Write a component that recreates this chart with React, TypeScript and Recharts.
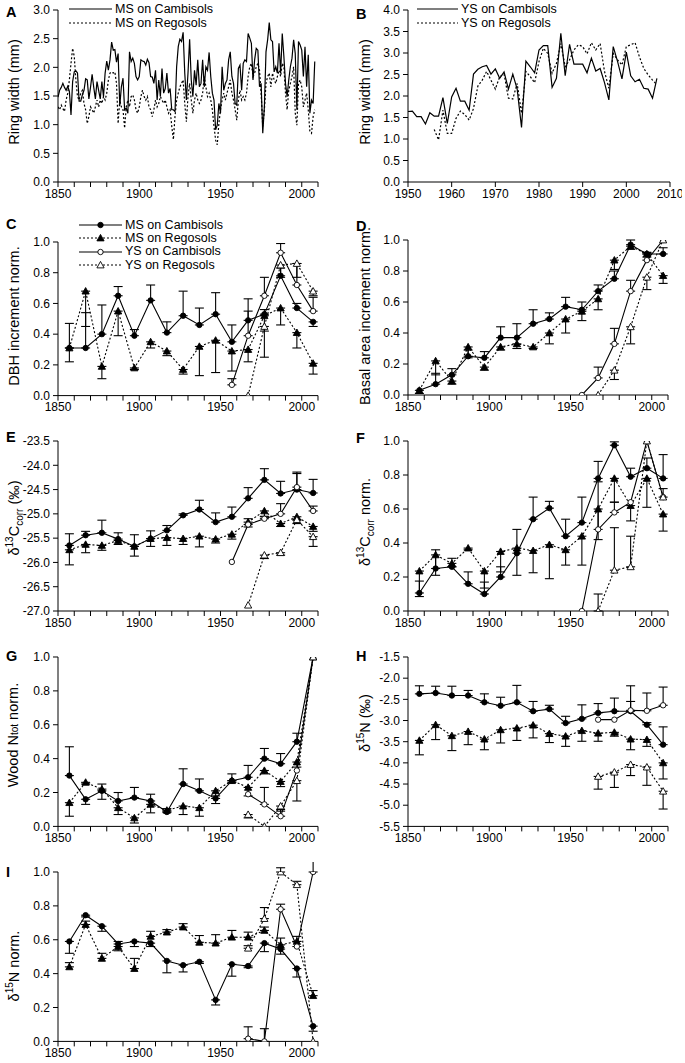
import React from "react";
import { ComposedChart, Line, XAxis, YAxis, ErrorBar } from "recharts";

const FONT = "'Liberation Sans', Arial, Helvetica, sans-serif";

// ---------- A: annual ring width, mature stands, 1850-2008
const ringStartA = 1850;
const msCambRing = [
  1.48, 1.6, 1.65, 1.72, 1.65, 1.6, 1.67, 1.58, 1.17, 1.75,
  1.92, 1.94, 1.9, 1.41, 1.41, 1.52, 1.6, 1.8, 1.78, 1.45,
  1.65, 1.88, 1.65, 1.45, 1.75, 1.6, 1.45, 1.75, 1.49, 1.9,
  2.11, 1.95, 2.13, 2.44, 2.3, 2.31, 2.09, 2.24, 1.33, 1.66,
  1.81, 1.26, 1.29, 1.2, 2.27, 2.1, 2.16, 2.07, 1.84, 1.78,
  1.84, 2.13, 2.11, 2.1, 2.04, 2.14, 2.08, 1.84, 1.83, 1.72,
  1.95, 1.43, 1.78, 1.49, 1.98, 1.55, 1.63, 1.9, 1.55, 1.63,
  1.26, 1.26, 1.23, 2.01, 2.36, 2.49, 2.45, 2.61, 1.9, 1.43,
  1.9, 2.49, 1.78, 1.49, 1.95, 1.69, 2.13, 1.66, 1.72, 2.13,
  1.66, 2.01, 1.95, 2.26, 1.84, 1.55, 1.43, 0.91, 0.99, 1.37,
  1.2, 2.01, 1.6, 1.72, 1.78, 2.13, 2.27, 1.84, 1.72, 1.37,
  1.34, 1.98, 2.04, 1.6, 2.07, 2.13, 2.1, 2.59, 2.51, 2.42,
  1.78, 2.13, 2.33, 2.3, 1.66, 1.72, 0.85, 1.31, 2.27, 2.48,
  2.78, 2.48, 2.45, 1.92, 2.01, 1.9, 2.42, 1.9, 2.59, 2.19,
  1.72, 1.49, 1.78, 2.01, 2.16, 2.48, 2.24, 1.26, 2.45, 2.39,
  2.3, 1.84, 2.36, 1.66, 2.22, 1.2, 1.43, 1.37, 2.1,
];
const msRegoRing = [
  1.31, 1.26, 1.34, 1.28, 1.23, 1.43, 1.55, 1.78, 2.07, 2.33,
  2.19, 1.78, 1.49, 1.43, 1.55, 1.6, 1.37, 1.26, 1.02, 1.14,
  1.31, 1.26, 1.2, 1.31, 1.43, 1.31, 1.43, 1.37, 1.49, 1.43,
  1.55, 1.78, 1.9, 1.92, 1.9, 1.92, 1.72, 1.02, 1.43, 1.31,
  1.26, 0.94, 1.31, 1.43, 1.31, 1.49, 1.52, 1.43, 1.26, 1.2,
  1.31, 1.49, 1.6, 1.49, 1.43, 1.49, 1.31, 1.26, 1.14, 1.26,
  1.43, 1.31, 1.37, 1.49, 1.43, 1.37, 1.43, 1.31, 1.2, 1.26,
  0.97, 0.74, 1.14, 1.43, 1.55, 1.66, 1.72, 1.78, 1.37, 1.05,
  1.49, 1.72, 1.43, 1.2, 1.43, 1.55, 1.43, 1.37, 1.43, 1.55,
  1.84, 1.66, 1.49, 1.55, 1.43, 1.26, 0.97, 0.73, 0.65, 1.02,
  1.26, 1.43, 1.55, 1.43, 1.55, 1.66, 1.78, 1.55, 1.43, 1.26,
  1.08, 1.43, 1.6, 1.43, 1.49, 1.43, 1.55, 1.84, 2.01, 2.07,
  1.84, 1.9, 2.01, 2.07, 1.95, 1.55, 0.97, 1.26, 1.72, 1.84,
  1.9, 1.66, 1.9, 1.78, 1.72, 1.84, 1.95, 1.84, 2.07, 2.01,
  1.55, 1.26, 1.6, 1.72, 1.84, 2.01, 1.2, 0.99, 1.72, 1.78,
  1.66, 1.31, 1.43, 1.55, 1.26, 0.88, 0.85, 1.14, 1.26,
];

// ---------- B: annual ring width, young stands, 1950-2007
const ringStartB = 1950;
const ysCambRing = [
  1.64, 1.65, 1.52, 1.52, 1.35, 1.61, 1.53, 1.53, 1.96, 1.36,
  1.98, 2.18, 1.88, 1.88, 1.67, 2.51, 2.62, 2.68, 2.71, 2.51,
  2.63, 2.41, 2.56, 2.16, 2.51, 2.16, 1.27, 2.81, 2.68, 2.54,
  3.07, 3.17, 3.17, 2.2, 2.41, 3.46, 2.47, 3.2, 2.74, 2.74,
  2.74, 2.54, 2.88, 2.58, 2.64, 2.31, 1.91, 3.15, 2.8, 2.4,
  3.02, 2.47, 2.33, 2.39, 2.18, 2.16, 1.95, 2.41,
];
const ysRegoRing = [
  null, null, null, null, null, null, 1.22, 0.98, 1.67, 1.13,
  1.13, 1.48, 1.65, 1.57, 1.44, 1.71, 2.23, 2.37, 2.57, 2.37,
  2.16, 2.45, 2.51, 1.95, 1.93, 2.29, 1.6, 2.57, 2.45, 2.31,
  2.8, 3.11, 2.99, 2.53, 2.76, 3.22, 2.68, 2.84, 3.07, 3.19,
  3.15, 2.98, 3.24, 3.07, 3.22, 2.57, 2.18, 2.99, 2.84, 2.72,
  3.15, 3.19, 3.24, 2.91, 2.64, 2.49, 2.37, 2.26,
];

// ---------- decadal panels (C-I); errors signed: + up, - down
const decades = [1857, 1867, 1877, 1887, 1897, 1907, 1917, 1927, 1937, 1947, 1957, 1967, 1977, 1987, 1997, 2007];
const ysDecades = [1957, 1967, 1977, 1987, 1997, 2007];

// C: DBH increment
const cMsCamb = [0.31, 0.31, 0.4, 0.65, 0.39, 0.62, 0.41, 0.52, 0.46, 0.53, 0.35, 0.49, 0.53, 0.78, 0.57, 0.48];
const cMsCambErr = [0.16, 0.23, 0.19, 0.06, 0.04, 0.1, 0.07, 0.16, 0.11, 0.14, 0.11, 0.14, 0.03, 0.05, 0.03, -0.03];
const cMsRego = [0.31, 0.68, 0.19, 0.55, 0.18, 0.35, 0.29, 0.17, 0.32, 0.36, 0.29, 0.3, 0.52, 0.57, 0.41, 0.21];
const cMsRegoErr = [-0.09, -0.23, -0.08, -0.16, -0.01, -0.04, -0.03, -0.03, -0.19, -0.21, -0.13, -0.08, -0.1, -0.11, -0.1, -0.07];
const cYsCamb = [0.07, 0.39, 0.65, 0.93, 0.72, 0.55];
const cYsCambErr = [0.04, 0.16, 0.12, 0.06, 0.14, 0.09];
const cYsRego = [null, 0.0, 0.45, 0.85, 0.86, 0.68];
const cYsRegoErr = [null, 0, -0.2, -0.08, -0.09, -0.03];

// D: basal area increment
const dMsCamb = [0.03, 0.07, 0.13, 0.25, 0.24, 0.37, 0.37, 0.46, 0.49, 0.57, 0.55, 0.67, 0.75, 0.97, 0.91, 0.91];
const dMsCambErr = [0, 0.07, 0.04, 0.04, 0.04, 0.07, 0.09, 0.09, 0.04, 0.06, 0.05, 0.04, 0.05, 0.03, 0.01, 0.04];
const dMsRego = [0.03, 0.22, 0.09, 0.31, 0.18, 0.31, 0.33, 0.31, 0.4, 0.49, 0.54, 0.62, 0.87, 0.96, 0.91, 0.77];
const dMsRegoErr = [-0.02, -0.09, -0.02, -0.07, -0.02, -0.02, -0.03, -0.01, -0.07, -0.09, -0.06, -0.07, -0.06, -0.02, -0.02, -0.05];
const dYsCamb = [0.0, 0.11, 0.33, 0.67, 0.87, 1.0];
const dYsCambErr = [0, 0.07, 0.1, 0.07, 0.05, 0];
const dYsRego = [null, 0.0, 0.16, 0.44, 0.76, 1.0];
const dYsRegoErr = [null, 0, -0.06, -0.11, -0.08, 0];

// E: d13C corr
const eMsCamb = [-25.65, -25.44, -25.39, -25.52, -25.67, -25.51, -25.34, -25.03, -24.91, -25.17, -25.06, -24.68, -24.3, -24.58, -24.5, -24.57];
const eMsCambErr = [0.24, 0.08, 0.26, 0.13, 0.24, 0.16, 0.1, 0.03, 0.19, 0.19, 0.2, 0.22, 0.23, 0.25, 0.33, 0.28];
const eMsRego = [-25.74, -25.63, -25.65, -25.55, -25.67, -25.51, -25.49, -25.51, -25.46, -25.52, -25.42, -25.17, -24.94, -25.2, -25.06, -25.26];
const eMsRegoErr = [-0.31, -0.17, -0.1, -0.08, -0.2, -0.16, -0.16, -0.12, -0.22, -0.08, -0.1, -0.1, -0.12, -0.06, -0.07, -0.1];
const eYsCamb = [-25.99, -25.22, -25.1, -25.0, -24.45, -24.94];
const eYsCambErr = [0, 0.12, 0.05, 0.21, 0.31, 0.1];
const eYsRego = [null, -26.88, -25.85, -25.8, -25.12, -25.47];
const eYsRegoErr = [null, 0, -0.07, -0.05, -0.08, -0.2];

// F: d13C corr normalised
const fMsCamb = [0.106, 0.25, 0.26, 0.16, 0.1, 0.2, 0.34, 0.54, 0.605, 0.44, 0.52, 0.78, 0.975, 0.79, 0.84, 0.78];
const fMsCambErr = [0.07, 0.11, 0.05, 0.07, 0.07, 0.06, 0.14, 0.13, 0.04, 0.1, 0.15, 0.1, 0.02, 0.05, 0.06, 0.14];
const fMsRego = [0.235, 0.33, 0.28, 0.37, 0.235, 0.35, 0.37, 0.355, 0.39, 0.36, 0.44, 0.6, 0.78, 0.62, 0.78, 0.57];
const fMsRegoErr = [-0.15, -0.12, -0.02, -0.01, -0.1, -0.12, -0.16, -0.13, -0.2, -0.09, -0.17, -0.18, -0.14, -0.09, -0.17, -0.1];
const fYsCamb = [0.0, 0.48, 0.58, 0.64, 1.0, 0.67];
const fYsCambErr = [0, 0.28, 0.06, 0, 0, 0.05];
const fYsRego = [null, 0.0, 0.24, 0.26, 1.0, 0.67];
const fYsRegoErr = [null, 0.1, 0.25, 0.18, 0, 0];

// G: wood N tot normalised
const gMsCamb = [0.3, 0.16, 0.21, 0.15, 0.17, 0.15, 0.085, 0.25, 0.21, 0.165, 0.27, 0.29, 0.4, 0.37, 0.5, 1.0];
const gMsCambErr = [0.17, -0.03, 0.04, 0.05, 0.06, 0.04, 0.02, 0.09, 0.07, -0.03, 0.04, 0.07, 0.06, 0.06, 0.05, 0];
const gMsRego = [0.14, 0.26, 0.22, 0.11, 0.05, 0.13, 0.095, 0.12, 0.11, 0.21, 0.27, 0.23, 0.33, 0.265, 0.38, 1.0];
const gMsRegoErr = [-0.08, -0.01, -0.06, -0.04, -0.03, -0.05, -0.01, -0.05, -0.05, -0.03, -0.01, -0.05, -0.02, -0.03, -0.03, 0];
const gYsCamb = [null, 0.19, 0.13, 0.06, 0.33, 1.0];
const gYsCambErr = [null, 0, 0.1, 0.04, 0, 0];
const gYsRego = [null, 0.07, 0.0, 0.12, 0.27, 1.0];
const gYsRegoErr = [null, -0.02, 0, -0.03, -0.12, 0];

// H: d15N
const hMsCamb = [-2.37, -2.35, -2.41, -2.41, -2.57, -2.65, -2.57, -2.78, -2.73, -3.06, -2.96, -2.82, -2.78, -2.78, -3.1, -3.57];
const hMsCambErr = [0.19, 0.16, 0.22, 0.12, 0.2, 0.2, 0.4, 0.23, 0.09, 0.16, 0.33, 0.22, 0.31, 0.23, 0.05, 0.42];
const hMsRego = [-3.47, -3.1, -3.36, -3.26, -3.44, -3.22, -3.18, -3.11, -3.31, -3.37, -3.24, -3.3, -3.28, -3.44, -3.45, -4.0];
const hMsRegoErr = [-0.34, -0.35, -0.35, -0.31, -0.25, -0.31, -0.29, -0.3, -0.21, -0.24, -0.25, -0.19, -0.09, -0.25, -0.16, -0.38];
const hYsCamb = [null, -2.98, -2.98, -2.76, -2.77, -2.64];
const hYsCambErr = [null, 0, 0, 0.58, 0.42, 0.43];
const hYsRego = [null, -4.32, -4.22, -4.04, -4.1, -4.67];
const hYsRegoErr = [null, -0.3, -0.36, -0.26, -0.43, -0.42];

// I: d15N normalised
const iMsCamb = [0.59, 0.745, 0.68, 0.575, 0.59, 0.58, 0.475, 0.45, 0.47, 0.245, 0.455, 0.445, 0.58, 0.545, 0.43, 0.09];
const iMsCambErr = [-0.07, -0.01, -0.03, -0.04, -0.03, -0.02, -0.07, -0.04, -0.01, -0.03, -0.07, -0.01, -0.05, -0.03, -0.05, -0.03];
const iMsRego = [0.44, 0.69, 0.49, 0.56, 0.43, 0.62, 0.645, 0.675, 0.585, 0.58, 0.615, 0.615, 0.655, 0.57, 0.59, 0.27];
const iMsRegoErr = [0.025, 0.02, 0.03, 0.03, 0.06, 0.03, 0.015, 0.02, 0.04, 0.05, 0.04, 0.03, 0.02, 0.04, 0.03, 0.03];
const iYsCamb = [null, 0.016, 0.0, 0.78, 0.56, 1.0];
const iYsCambErr = [null, 0.07, 0.075, 0.03, 0.03, 0.077];
const iYsRego = [null, 0.55, 0.725, 1.0, 0.925, 0.0];
const iYsRegoErr = [null, 0.015, 0.065, 0.025, 0.02, 0];

// ticks
const ticksDecade = [1850, 1860, 1870, 1880, 1890, 1900, 1910, 1920, 1930, 1940, 1950, 1960, 1970, 1980, 1990, 2000, 2010];
const ticksB = [1950, 1960, 1970, 1980, 1990, 2000, 2010];
const ticksA = [0, 0.5, 1, 1.5, 2, 2.5, 3];
const ticksBy = [0, 0.5, 1, 1.5, 2, 2.5, 3, 3.5, 4];
const ticksNorm = [0, 0.2, 0.4, 0.6, 0.8, 1];
const ticksE = [-27, -26.5, -26, -25.5, -25, -24.5, -24, -23.5];
const ticksH = [-5.5, -5, -4.5, -4, -3.5, -3, -2.5, -2, -1.5];

const toErr = (e: number | null | undefined) =>
  e == null || e === 0 ? null : e > 0 ? [0, e] : [-e, 0];

function buildDecadal(
  msc: number[], mscE: number[], msr: number[], msrE: number[],
  ysc: (number | null)[], yscE: (number | null)[], ysr: (number | null)[], ysrE: (number | null)[]
) {
  const shift = decades.length - ysDecades.length;
  return decades.map((year, i) => {
    const j = i - shift;
    return {
      year,
      msc: msc[i],
      mscE: toErr(mscE[i]),
      msr: msr[i],
      msrE: toErr(msrE[i]),
      ysc: j >= 0 ? ysc[j] : null,
      yscE: j >= 0 ? toErr(yscE[j]) : null,
      ysr: j >= 0 ? ysr[j] : null,
      ysrE: j >= 0 ? toErr(ysrE[j]) : null,
    };
  });
}

const dataA = msCambRing.map((v, i) => ({ year: ringStartA + i, msc: v, msr: msRegoRing[i] }));
const dataB = ysCambRing.map((v, i) => ({ year: ringStartB + i, ysc: v, ysr: ysRegoRing[i] }));

function Marker({ cx, cy, shape, filled }: any) {
  if (cx == null || cy == null || !isFinite(cy)) return null;
  const fill = filled ? "#000" : "#fff";
  if (shape === "circle") {
    return <circle cx={cx} cy={cy} r={2.7} fill={fill} stroke="#000" strokeWidth={0.9} />;
  }
  const s = 3.6;
  return (
    <polygon
      points={`${cx},${cy - s} ${cx - s},${cy + s * 0.8} ${cx + s},${cy + s * 0.8}`}
      fill={fill}
      stroke="#000"
      strokeWidth={0.9}
    />
  );
}

const series = [
  { key: "msc", label: "MS on Cambisols", dash: undefined, shape: "circle", filled: true },
  { key: "msr", label: "MS on Regosols", dash: "2 2", shape: "tri", filled: true },
  { key: "ysc", label: "YS on Cambisols", dash: undefined, shape: "circle", filled: false },
  { key: "ysr", label: "YS on Regosols", dash: "2 2", shape: "tri", filled: false },
];

const tickStyle = { fill: "#000", fontSize: 12, fontFamily: FONT };
const fmt1 = (v: number) => v.toFixed(1);
const fmtYear50 = (v: number) => (v % 50 === 0 ? String(v) : "");

function Panel({ left, plotTop, plotH, data, xDomain, xTicks, xFmt, yDomain, yTicks, width = 330, children }: any) {
  return (
    <div style={{ position: "absolute", left, top: plotTop - 10 }}>
      <ComposedChart width={width} height={plotH + 36} data={data} margin={{ top: 10, right: 12, bottom: 0, left: 0 }}>
        <XAxis
          type="number"
          dataKey="year"
          domain={xDomain}
          ticks={xTicks}
          tickFormatter={xFmt}
          interval={0}
          allowDataOverflow
          height={26}
          tickSize={5}
          tickMargin={2}
          stroke="#000"
          tick={tickStyle}
        />
        <YAxis
          type="number"
          domain={yDomain}
          ticks={yTicks}
          interval={0}
          allowDataOverflow
          width={58}
          tickSize={5}
          tickMargin={3}
          stroke="#000"
          tick={tickStyle}
          tickFormatter={fmt1}
        />
        {children}
      </ComposedChart>
    </div>
  );
}

// curves + error bars first, markers on top
function decadalLines() {
  const curves = series.map((s) => (
    <Line
      key={`${s.key}-line`}
      dataKey={s.key}
      type="linear"
      stroke="#000"
      strokeWidth={1.1}
      strokeDasharray={s.dash}
      isAnimationActive={false}
      activeDot={false}
      dot={false}
    >
      <ErrorBar dataKey={`${s.key}E`} width={4.5} stroke="#000" strokeWidth={1.1} direction="y" isAnimationActive={false} />
    </Line>
  ));
  const marks = series.map((s) => (
    <Line
      key={`${s.key}-dots`}
      dataKey={s.key}
      type="linear"
      stroke="none"
      isAnimationActive={false}
      activeDot={false}
      dot={(p: any) => <Marker key={`${s.key}-${p.index}`} cx={p.cx} cy={p.cy} shape={s.shape} filled={s.filled} />}
    />
  ));
  return [...curves, ...marks];
}

function YTitle({ x, y, children }: any) {
  return (
    <div
      style={{
        position: "absolute",
        left: x,
        top: y,
        transform: "translate(-50%, -50%) rotate(-90deg)",
        whiteSpace: "nowrap",
        fontFamily: FONT,
        fontSize: 14.5,
        lineHeight: "16px",
        color: "#000",
      }}
    >
      {children}
    </div>
  );
}

function Letter({ x, y, children }: any) {
  return (
    <div style={{ position: "absolute", left: x, top: y, fontFamily: FONT, fontWeight: "bold", fontSize: 14.5, lineHeight: 1 }}>
      {children}
    </div>
  );
}

function LegendBox({ left, top, rowH, lineW, items, markers }: any) {
  return (
    <div style={{ position: "absolute", left, top, fontFamily: FONT, fontSize: 12.5, color: "#000" }}>
      {items.map((it: any) => (
        <div key={it.label} style={{ display: "flex", alignItems: "center", height: rowH }}>
          <svg width={lineW} height={10} style={{ marginRight: 3, overflow: "visible" }}>
            <line x1={0} y1={5} x2={lineW} y2={5} stroke="#000" strokeWidth={1.2} strokeDasharray={it.dash} />
            {markers && <Marker cx={lineW / 2} cy={5} shape={it.shape} filled={it.filled} />}
          </svg>
          <span style={{ whiteSpace: "nowrap", lineHeight: 1 }}>{it.label}</span>
        </div>
      ))}
    </div>
  );
}

const sup = { fontSize: 10, verticalAlign: "super", lineHeight: 0 } as const;
const sub = { fontSize: 10, verticalAlign: "sub", lineHeight: 0 } as const;

const decadalPanels = [
  { id: "C", left: 0, plotTop: 241.7, plotH: 153.6, yDomain: [0, 1], yTicks: ticksNorm, letterY: 217, titleY: 316,
    title: <>DBH increment norm.</>,
    data: buildDecadal(cMsCamb, cMsCambErr, cMsRego, cMsRegoErr, cYsCamb, cYsCambErr, cYsRego, cYsRegoErr) },
  { id: "D", left: 350, plotTop: 240, plotH: 155, yDomain: [0, 1], yTicks: ticksNorm, letterY: 219, titleY: 316,
    title: <>Basal area increment norm.</>,
    data: buildDecadal(dMsCamb, dMsCambErr, dMsRego, dMsRegoErr, dYsCamb, dYsCambErr, dYsRego, dYsRegoErr) },
  { id: "E", left: 0, plotTop: 440.7, plotH: 170, yDomain: [-27, -23.5], yTicks: ticksE, letterY: 430, titleY: 518,
    title: <>δ<span style={sup}>13</span>C<span style={sub}>corr</span> (‰)</>,
    data: buildDecadal(eMsCamb, eMsCambErr, eMsRego, eMsRegoErr, eYsCamb, eYsCambErr, eYsRego, eYsRegoErr) },
  { id: "F", left: 350, plotTop: 440.7, plotH: 170, yDomain: [0, 1], yTicks: ticksNorm, letterY: 431, titleY: 522,
    title: <>δ<span style={sup}>13</span>C<span style={sub}>corr</span> norm.</>,
    data: buildDecadal(fMsCamb, fMsCambErr, fMsRego, fMsRegoErr, fYsCamb, fYsCambErr, fYsRego, fYsRegoErr) },
  { id: "G", left: 0, plotTop: 657.3, plotH: 169.4, yDomain: [0, 1], yTicks: ticksNorm, letterY: 649, titleY: 735,
    title: <>Wood N<span style={{ fontSize: 10 }}>tot</span> norm.</>,
    data: buildDecadal(gMsCamb, gMsCambErr, gMsRego, gMsRegoErr, gYsCamb, gYsCambErr, gYsRego, gYsRegoErr) },
  { id: "H", left: 350, plotTop: 657.3, plotH: 169.4, yDomain: [-5.5, -1.5], yTicks: ticksH, letterY: 649, titleY: 723,
    title: <>δ<span style={sup}>15</span>N (‰)</>,
    data: buildDecadal(hMsCamb, hMsCambErr, hMsRego, hMsRegoErr, hYsCamb, hYsCambErr, hYsRego, hYsRegoErr) },
  { id: "I", left: 0, plotTop: 872.3, plotH: 169.4, yDomain: [0, 1], yTicks: ticksNorm, letterY: 865, titleY: 966,
    title: <>δ<span style={sup}>15</span>N norm.</>,
    data: buildDecadal(iMsCamb, iMsCambErr, iMsRego, iMsRegoErr, iYsCamb, iYsCambErr, iYsRego, iYsRegoErr) },
];

export default function App() {
  return (
    <div style={{ position: "absolute", left: 0, top: 0, width: 685, height: 1063, background: "#fff", overflow: "hidden" }}>
      {/* A */}
      <Panel left={0} plotTop={10} plotH={172} data={dataA} xDomain={[1850, 2010]} xTicks={ticksDecade} xFmt={fmtYear50} yDomain={[0, 3]} yTicks={ticksA}>
        <Line dataKey="msc" type="linear" stroke="#000" strokeWidth={1.2} dot={false} activeDot={false} isAnimationActive={false} />
        <Line dataKey="msr" type="linear" stroke="#000" strokeWidth={1.2} strokeDasharray="2 2" dot={false} activeDot={false} isAnimationActive={false} />
      </Panel>
      <Letter x={6} y={5}>A</Letter>
      <YTitle x={14} y={92}>Ring width (mm)</YTitle>
      <LegendBox left={69} top={2} rowH={14} lineW={43} items={series.slice(0, 2)} />

      {/* B */}
      <Panel left={350} plotTop={10} plotH={172} width={332} data={dataB} xDomain={[1950, 2010]} xTicks={ticksB} yDomain={[0, 4]} yTicks={ticksBy}>
        <Line dataKey="ysc" type="linear" stroke="#000" strokeWidth={1.2} dot={false} activeDot={false} isAnimationActive={false} />
        <Line dataKey="ysr" type="linear" stroke="#000" strokeWidth={1.2} strokeDasharray="2 2" dot={false} activeDot={false} isAnimationActive={false} />
      </Panel>
      <Letter x={356} y={7}>B</Letter>
      <YTitle x={365} y={92}>Ring width (mm)</YTitle>
      <LegendBox left={417} top={2} rowH={14} lineW={41} items={series.slice(2, 4)} />

      {decadalPanels.map((p) => (
        <React.Fragment key={p.id}>
          <Panel left={p.left} plotTop={p.plotTop} plotH={p.plotH} data={p.data} xDomain={[1850, 2010]} xTicks={ticksDecade} xFmt={fmtYear50} yDomain={p.yDomain} yTicks={p.yTicks}>
            {decadalLines()}
          </Panel>
          <Letter x={p.left + 6} y={p.letterY}>{p.id}</Letter>
          <YTitle x={p.left + 14 + (p.left ? 1 : 0)} y={p.titleY}>{p.title}</YTitle>
        </React.Fragment>
      ))}
      <LegendBox left={79} top={218.4} rowH={13.3} lineW={43} items={series} markers />
    </div>
  );
}
